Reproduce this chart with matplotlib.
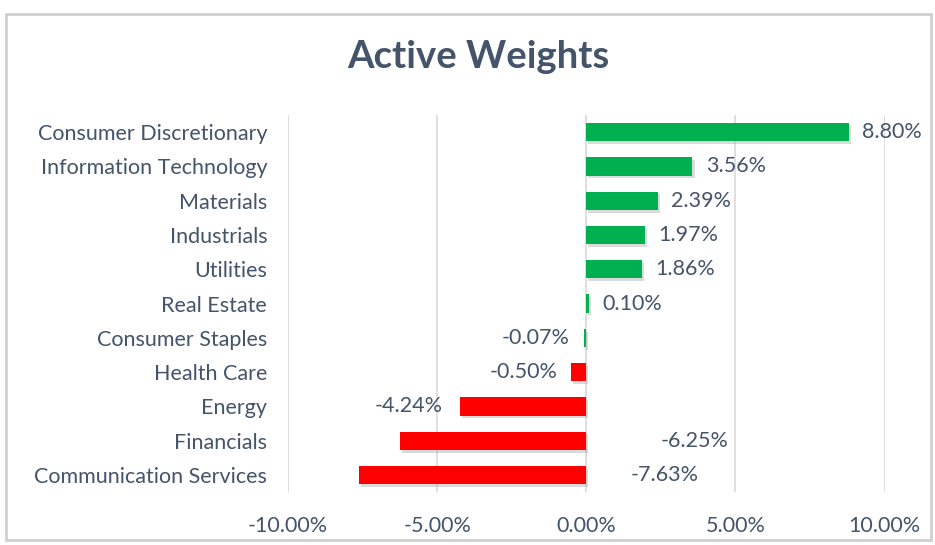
import matplotlib.pyplot as plt
import matplotlib.patheffects as pe
from matplotlib.patches import Rectangle

sectors = ["Consumer Discretionary", "Information Technology", "Materials", "Industrials",
           "Utilities", "Real Estate", "Consumer Staples", "Health Care", "Energy",
           "Financials", "Communication Services"]
weights = [8.80, 3.56, 2.39, 1.97, 1.86, 0.10, -0.07, -0.50, -4.24, -6.25, -7.63]
bar_colors = ["#00B050"] * 7 + ["#FF0000"] * 4
# data label x positions (Excel placed some of them by hand)
label_x = [9.3, 4.05, 2.88, 2.46, 2.35, 0.59, -0.55, -0.98, -4.8, 3.62, 2.62]

text_col = "#44546A"
plt.rcParams['font.family'] = ['Lato', 'DejaVu Sans']

fig = plt.figure(figsize=(9.35, 5.45), dpi=100)
fig.patches.append(Rectangle((0.006, 0.01), 0.99, 0.965, transform=fig.transFigure,
                             fill=False, edgecolor="#D0D0D0", linewidth=2))
ax = fig.add_axes([0.308, 0.097, 0.638, 0.692])

y = list(range(len(sectors)))
bars = ax.barh(y, weights, height=0.53, color=bar_colors, zorder=3)
for b in bars:
    b.set_path_effects([pe.SimplePatchShadow(offset=(1.5, -2), shadow_rgbFace="#999999", alpha=0.35),
                        pe.Normal()])

for yi, w, lx in zip(y, weights, label_x):
    ha = "left" if w >= 0 else "right"
    if w < 0 and lx > 0:
        ha = "center"
    ax.text(lx if ha != "left" else w + 0.45, yi, f"{w:.2f}%", va="center", ha=ha,
            fontsize=15.5, color=text_col)

ax.set_xlim(-10, 10)
ax.set_ylim(10.5, -0.5)
ax.set_xticks([-10, -5, 0, 5, 10])
ax.set_xticklabels(["-10.00%", "-5.00%", "0.00%", "5.00%", "10.00%"])
ax.set_yticks(y)
ax.set_yticklabels(sectors)
ax.tick_params(axis="both", length=0, labelsize=15.5, colors=text_col)
ax.tick_params(axis="y", pad=15)
ax.tick_params(axis="x", pad=17)
ax.grid(axis="x", color="#D9D9D9", linewidth=1.2, zorder=0)
for s in ax.spines.values():
    s.set_visible(False)

fig.text(0.512, 0.895, "Active Weights", ha="center", va="center", fontsize=27.5,
         fontweight="bold", color=text_col)

fig.savefig("out.png", dpi=100)
